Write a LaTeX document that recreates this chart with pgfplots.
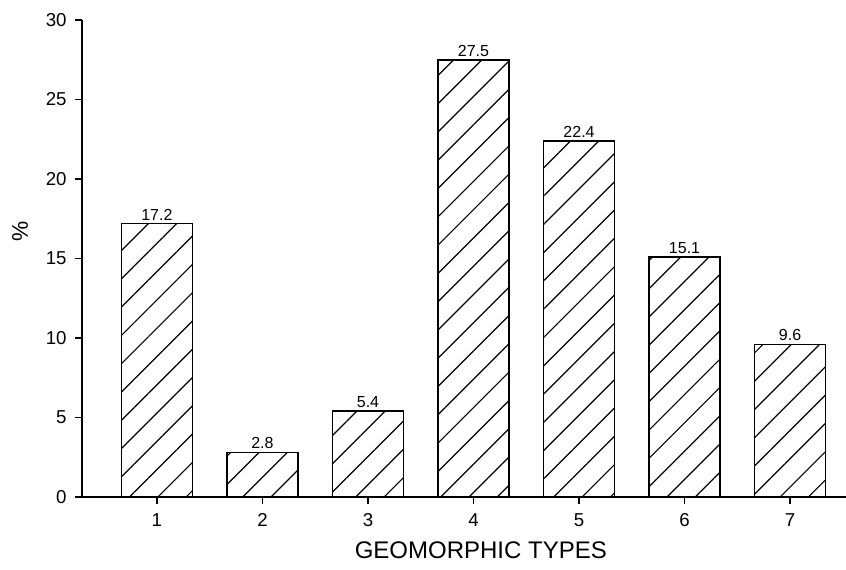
\documentclass[border=0pt]{standalone}
\usepackage{pgfplots}
\pgfplotsset{compat=1.18}
\usepackage{fontspec}
\setmainfont{Liberation Sans}
\usetikzlibrary{patterns.meta}
\begin{document}
\begin{tikzpicture}
\useasboundingbox (-61.5pt,-54.75pt) rectangle (573pt,372.75pt);
\begin{axis}[
  scale only axis,
  width=573pt, height=357.75pt,
  xmin=0.29, xmax=7.53,
  ymin=0, ymax=30,
  axis x line*=bottom,
  axis y line*=left,
  axis line style={line width=1.4pt},
  xtick={1,2,3,4,5,6,7},
  ytick={0,5,10,15,20,25,30},
  tick align=outside,
  major tick length=5pt,
  tick style={line width=1.1pt, black},
  /pgf/number format/assume math mode=true,
  ticklabel style={font=\fontsize{14}{16}\selectfont},
  yticklabel style={xshift=-3pt},
  xticklabel style={yshift=-4pt},
  xlabel={GEOMORPHIC TYPES},
  ylabel={\%},
  xlabel style={at={(axis description cs:0.522,-0.111)}, anchor=center, font=\fontsize{18}{20}\selectfont},
  ylabel style={at={(axis description cs:-0.081,0.556)}, anchor=center, font=\fontsize{17}{18}\selectfont},
  ybar,
  bar width=0.675,
  nodes near coords,
  nodes near coords style={font=\fontsize{12}{14}\selectfont, inner sep=2pt},
  point meta=explicit symbolic,
]
\addplot[draw=black, line width=1.2pt, pattern={Lines[angle=45,distance=15pt,line width=0.9pt]}, pattern color=black]
  coordinates {(1,17.2) [17.2] (2,2.8) [2.8] (3,5.4) [5.4] (4,27.5) [27.5] (5,22.4) [22.4] (6,15.1) [15.1] (7,9.6) [9.6]};
\end{axis}
\end{tikzpicture}
\end{document}
